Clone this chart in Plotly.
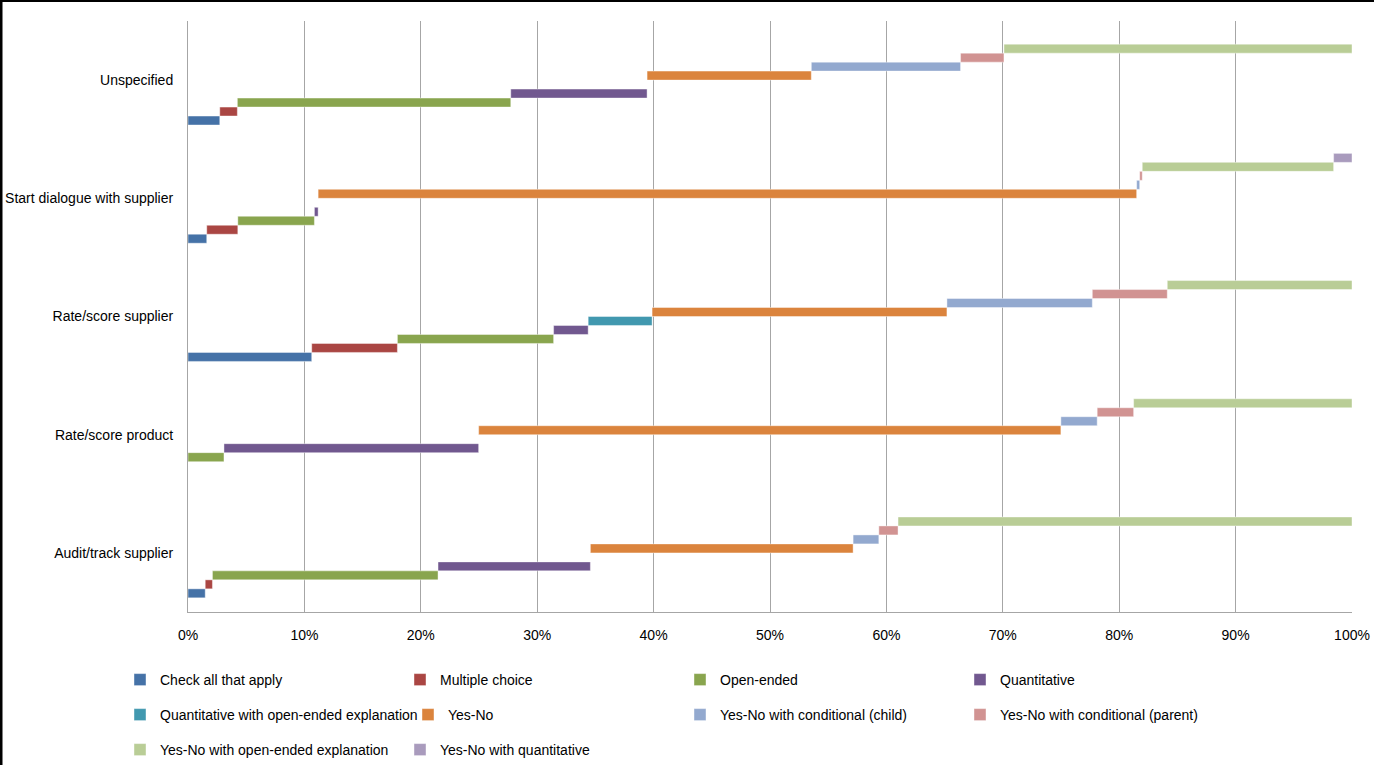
import numpy as np
import plotly.graph_objects as go

categories = ["Audit/track supplier", "Rate/score product", "Rate/score supplier",
              "Start dialogue with supplier", "Unspecified"]

series_names = ["Check all that apply", "Multiple choice", "Open-ended", "Quantitative",
                "Quantitative with open-ended explanation", "Yes-No",
                "Yes-No with conditional (child)", "Yes-No with conditional (parent)",
                "Yes-No with open-ended explanation", "Yes-No with quantitative"]

# percent values per category (order as categories list)
check_all = [1.48, 0.0, 10.63, 1.61, 2.73]
multiple_choice = [0.62, 0.0, 7.36, 2.67, 1.51]
open_ended = [19.38, 3.09, 13.42, 6.58, 23.49]
quantitative = [13.09, 21.88, 2.97, 0.32, 11.71]
quant_open = [0.0, 0.0, 5.49, 0.0, 0.0]
yes_no = [22.57, 50.02, 25.33, 70.32, 14.11]
yn_child = [2.21, 3.12, 12.49, 0.26, 12.82]
yn_parent = [1.65, 3.13, 6.44, 0.22, 3.73]
yn_open = [39.00, 18.76, 15.87, 16.44, 29.90]
yn_quant = [0.0, 0.0, 0.0, 1.58, 0.0]

series_values = [check_all, multiple_choice, open_ended, quantitative, quant_open,
                 yes_no, yn_child, yn_parent, yn_open, yn_quant]

colors = ["#4572A7", "#AA4643", "#89A54E", "#71588F", "#4198AF",
          "#DB843D", "#93A9CF", "#D19392", "#B9CD96", "#A99BBD"]

tick_vals = [0, 10, 20, 30, 40, 50, 60, 70, 80, 90, 100]
tick_text = ["0%", "10%", "20%", "30%", "40%", "50%", "60%", "70%", "80%", "90%", "100%"]

FONT = "Liberation Sans, Arial, sans-serif"

vals = np.array(series_values, dtype=float)
bases = np.vstack([np.zeros(vals.shape[1]), np.cumsum(vals, axis=0)[:-1]])

legend_ids = ["legend", "legend", "legend", "legend",
              "legend2", "legend2", "legend2", "legend2",
              "legend3", "legend3"]
legend_widths = [235, 235, 235, 235, 243, 227, 235, 235, 235, 235]

fig = go.Figure()
for i, name in enumerate(series_names):
    fig.add_trace(go.Bar(
        y=categories, x=vals[i], base=bases[i], orientation="h", name=name,
        marker=dict(color=colors[i], line=dict(color="rgba(255,255,255,0.6)", width=0.7)),
        legend=legend_ids[i], legendwidth=legend_widths[i],
    ))

W, H = 1374, 765
L, R, T, B = 188, 22, 21, 153
pw, ph = W - L - R, H - T - B

def py(v):
    return (H - B - v) / ph

lx = (120 - L) / pw
leg_common = dict(orientation="h", xanchor="left", yanchor="middle", x=lx,
                  entrywidth=235, entrywidthmode="pixels", traceorder="normal",
                  font=dict(family=FONT, size=14, color="#000000"),
                  bgcolor="rgba(0,0,0,0)")

fig.update_layout(
    width=W, height=H,
    margin=dict(l=L, r=R, t=T, b=B, autoexpand=False),
    barmode="group", bargap=0.24, bargroupgap=0,
    plot_bgcolor="white", paper_bgcolor="white",
    font=dict(family=FONT, size=14, color="#000000"),
    xaxis=dict(range=[0, 100], tickvals=tick_vals, ticktext=tick_text,
               showgrid=True, gridcolor="#A6A6A6", gridwidth=1,
               showline=True, linecolor="#A6A6A6", linewidth=1,
               zeroline=False, ticks="", ticklabelstandoff=10, fixedrange=True),
    yaxis=dict(showgrid=False, showline=True, linecolor="#A6A6A6", linewidth=1,
               ticks="", ticklabelstandoff=11, fixedrange=True),
    legend=dict(y=py(680), **leg_common),
    legend2=dict(y=py(715), **leg_common),
    legend3=dict(y=py(750), **leg_common),
    shapes=[
        dict(type="line", xref="paper", yref="paper", x0=-L / pw, x1=(W - L) / pw,
             y0=(H - B - 1) / ph, y1=(H - B - 1) / ph, line=dict(color="black", width=2)),
        dict(type="line", xref="paper", yref="paper", x0=-L / pw + 1 / pw, x1=-L / pw + 1 / pw,
             y0=-B / ph, y1=(H - B) / ph, line=dict(color="black", width=3)),
    ],
)

fig.write_html("out.html",
               config={"displayModeBar": False},
               post_script="document.body.style.margin='0';document.body.style.padding='0';"
                           "document.body.style.overflow='hidden';")
